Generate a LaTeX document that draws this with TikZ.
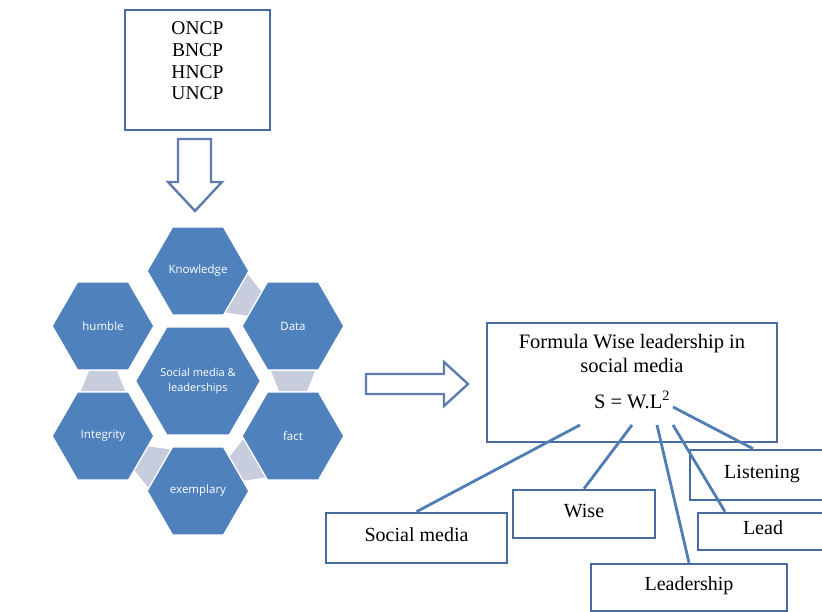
\documentclass[tikz,border=0pt]{standalone}
\usepackage{fontspec}
\setmainfont{Liberation Serif}
\newfontfamily\hexfont{Open Sans}
\usetikzlibrary{shapes.geometric,calc}

\definecolor{hexblue}{RGB}{79,129,189}
\definecolor{boxline}{RGB}{72,108,160}
\definecolor{wireblue}{RGB}{80,125,180}
\definecolor{linkgrey}{RGB}{200,205,222}
\definecolor{arrowline}{RGB}{95,125,172}

\tikzset{
  hex/.style={regular polygon, regular polygon sides=6, fill=hexblue, text=white,
    inner sep=0pt, minimum size=100pt, align=center,
    font=\hexfont\fontsize{11.5}{14.5}\selectfont},
  box/.style={draw=boxline, line width=2.6pt, fill=white, inner sep=0pt,
    font=\fontsize{20.5}{24}\selectfont},
  label box/.style={box, text height=13pt, text depth=7pt,
    font=\fontsize{20}{24}\selectfont},
  wire/.style={wireblue, line width=2.8pt},
  blockarrow/.style={draw=arrowline, line width=2.4pt, fill=white, line join=miter}
}

% grey link between two neighbouring hexagons
\newcommand{\hexlink}[2]{%
  \coordinate (ma) at ($(#1)!0.5!(#2)$);
  \coordinate (la) at ($(ma)!10pt!(#1)$);
  \coordinate (lb) at ($(ma)!10pt!(#2)$);
  \fill[linkgrey] ($(la)!22pt!90:(#2)$) -- ($(la)!22pt!-90:(#2)$)
    -- ($(lb)!14pt!-90:(#2)$) -- ($(lb)!14pt!90:(#2)$) -- cycle;}

\begin{document}
\begin{tikzpicture}[x=1pt, y=-1pt]
\useasboundingbox (0,0) rectangle (822,612);
\clip (0,0) rectangle (822,612);

% programmes
\node[box, minimum width=145pt, minimum height=120pt, font=\fontsize{19.5}{21.7}\selectfont]
  (src) at (197.5,70)
  {\begin{tabular}{@{}c@{}}ONCP\\BNCP\\HNCP\\UNCP\\[14pt]\end{tabular}};

\draw[blockarrow] (178,139) -- (211,139) -- (211,182) -- (222,182) -- (195,211)
  -- (168,182) -- (178,182) -- cycle;

% hexagon cluster
\node[hex, minimum size=123pt, font=\hexfont\fontsize{11}{14.5}\selectfont]
  (hub) at (198,381) {Social media \&\\leaderships};
\node[hex] (kn) at (198,271) {Knowledge};
\node[hex] (da) at (293,326) {Data};
\node[hex] (fa) at (293,436) {fact};
\node[hex] (ex) at (198,491) {exemplary};
\node[hex] (in) at (103,436) {Integrity};
\node[hex] (hu) at (103,326) {humble};

\hexlink{kn}{da}
\hexlink{da}{fa}
\hexlink{fa}{ex}
\hexlink{ex}{in}
\hexlink{in}{hu}

\draw[blockarrow] (366,374) -- (444,374) -- (444,362) -- (468,384) -- (444,406)
  -- (444,394) -- (366,394) -- cycle;

% formula
\node[box, minimum width=290pt, minimum height=119pt] (formula) at (632,382.5)
  {\begin{tabular}{@{}c@{}}Formula Wise leadership in\\social media\\[12pt]
   S = W.L\textsuperscript{2}\\[18pt]\end{tabular}};

\node[label box, minimum width=181pt, minimum height=50pt] (social) at (416.5,538) {Social media};
\node[label box, minimum width=142pt, minimum height=48pt] (wise) at (584,514) {Wise};
\node[label box, minimum width=196pt, minimum height=47pt] (leader) at (689,587.5) {Leadership};
\node[label box, minimum width=144pt, minimum height=50pt] (listen) at (762,475) {Listening};
\node[label box, minimum width=130pt, minimum height=37pt] (lead) at (763,531.5) {Lead};

\coordinate (w1) at (580,425);
\coordinate (w2) at (632,425);
\coordinate (w3) at (657,425);
\coordinate (w4) at (673,425);
\coordinate (w5) at (673,407);

\draw[wire] (w1) -- (social.north);
\draw[wire] (w2) -- (wise.north);
\draw[wire] (w3) -- (leader.north);
\draw[wire] (w4) -- ([xshift=-38pt]lead.north);
\draw[wire] (w5) -- ([xshift=-9pt]listen.north);

\end{tikzpicture}
\end{document}
